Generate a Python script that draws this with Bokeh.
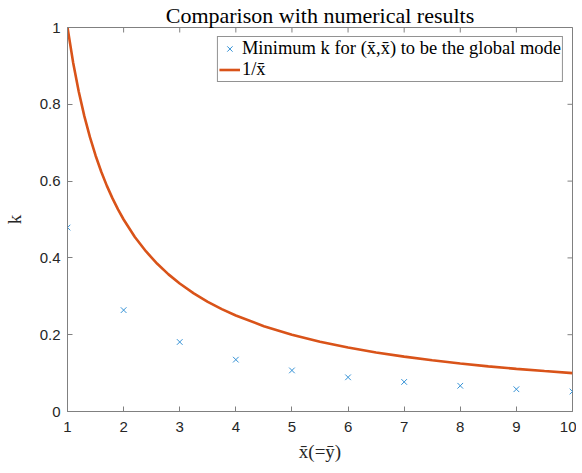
import math
from bokeh.plotting import figure
from bokeh.models import FixedTicker, Legend, LegendItem, Range1d
from bokeh.embed import file_html
from bokeh.resources import INLINE

# numerical results
xbar_pts = [1, 2, 3, 4, 5, 6, 7, 8, 9, 10]
k_min = [0.479, 0.264, 0.181, 0.135, 0.107, 0.089, 0.077, 0.067, 0.058, 0.052]

# curve 1/xbar (sampled values)
curve_x = [1.0, 1.1, 1.2, 1.3, 1.4, 1.5, 1.6, 1.7, 1.8, 1.9, 2.0, 2.2, 2.4, 2.6, 2.8, 3.0,
           3.25, 3.5, 3.75, 4.0, 4.5, 5.0, 5.5, 6.0, 6.5, 7.0, 7.5, 8.0, 8.5, 9.0, 9.5, 10.0]
curve_y = [1.0, 0.9091, 0.8333, 0.7692, 0.7143, 0.6667, 0.625, 0.5882, 0.5556, 0.5263, 0.5,
           0.4545, 0.4167, 0.3846, 0.3571, 0.3333, 0.3077, 0.2857, 0.2667, 0.25, 0.2222, 0.2,
           0.1818, 0.1667, 0.1538, 0.1429, 0.1333, 0.125, 0.1176, 0.1111, 0.1053, 0.1]

x_ticks = [1, 2, 3, 4, 5, 6, 7, 8, 9, 10]
y_ticks = [0, 0.2, 0.4, 0.6, 0.8, 1.0]
x_min, x_max = 1, 10
y_min, y_max = 0, 1

title_text = "Comparison with numerical results"
xlabel = "x\u0304(=y\u0304)"
ylabel = "k"
label_pts = "Minimum k for (x\u0304,x\u0304) to be the global mode"
label_curve = "1/x\u0304"

AX = "#808080"
TXT = "#262626"
SERIF = "Liberation Serif"
SANS = "Liberation Sans"

p = figure(frame_width=505, frame_height=384, output_backend="svg", toolbar_location=None,
           x_range=Range1d(x_min, x_max), y_range=Range1d(y_min, y_max),
           min_border_left=57, min_border_right=4, min_border_top=20, min_border_bottom=53,
           title=title_text)
p.grid.visible = False
p.outline_line_color = AX
p.background_fill_color = "white"
p.border_fill_color = "white"

p.title.text_font = SERIF
p.title.text_font_style = "normal"
p.title.text_font_size = "22px"
p.title.text_color = "black"
p.title.align = "center"
p.title.standoff = 0

for ax in (p.xaxis[0], p.yaxis[0]):
    ax.axis_line_color = AX
    ax.major_tick_line_color = AX
    ax.major_tick_in = 5
    ax.major_tick_out = 0
    ax.minor_tick_line_color = None
    ax.major_label_text_font = SANS
    ax.major_label_text_font_size = "15px"
    ax.major_label_text_color = TXT
    ax.axis_label_text_font = SERIF
    ax.axis_label_text_font_style = "normal"
    ax.axis_label_text_font_size = "19px"
    ax.axis_label_text_color = TXT

p.xaxis[0].ticker = FixedTicker(ticks=x_ticks)
p.yaxis[0].ticker = FixedTicker(ticks=y_ticks)
p.yaxis[0].formatter.use_scientific = False
p.xaxis[0].axis_label = xlabel
p.yaxis[0].axis_label = ylabel
p.xaxis[0].major_label_standoff = 10
p.yaxis[0].major_label_standoff = 7
p.xaxis[0].axis_label_standoff = 6
p.yaxis[0].axis_label_standoff = 12

# box ticks on the top and right edges (half of each dash is clipped by the frame)
p.scatter(x_ticks, [y_max] * len(x_ticks), marker="dash", angle=math.pi / 2, size=10,
          line_color=AX, line_width=1)
p.scatter([x_max] * len(y_ticks), y_ticks, marker="dash", size=10,
          line_color=AX, line_width=1)

r_pts = p.scatter(xbar_pts, k_min, marker="x", size=8, line_color="#3592D6", line_width=1)
r_line = p.line(curve_x, curve_y, line_color="#D95319", line_width=2.6)

legend = Legend(items=[LegendItem(label=label_pts, renderers=[r_pts]),
                       LegendItem(label=label_curve, renderers=[r_line])],
                location="top_right")
legend.label_text_font = SERIF
legend.label_text_font_size = "18.5px"
legend.label_text_color = "black"
legend.border_line_color = TXT
legend.border_line_width = 1
legend.padding = 1
legend.spacing = 0
legend.margin = 9
legend.glyph_width = 21
legend.glyph_height = 19
legend.label_height = 19
legend.label_standoff = 2
p.add_layout(legend, "center")

open("out.html", "w").write(file_html(p, INLINE))
